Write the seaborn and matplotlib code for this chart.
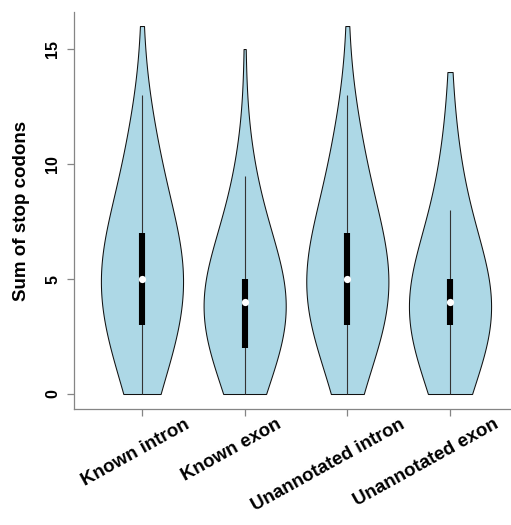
import numpy as np
import pandas as pd
import matplotlib
matplotlib.use("Agg")
import matplotlib.pyplot as plt
import matplotlib.transforms as mtransforms
import seaborn as sns

# ---------------- data ----------------
categories = ["Known intron", "Known exon", "Unannotated intron", "Unannotated exon"]
# number of regions having 0, 1, 2, ... stop codons (estimated from the violins)
known_intron_counts = [6, 7, 8, 11, 12, 13, 12, 13, 5, 5, 5, 5, 3, 1, 0, 0, 1]
known_exon_counts = [7, 8, 11, 13, 16, 18, 6, 5, 5, 4, 2, 1, 0, 0, 0, 1]
unannotated_intron_counts = [4, 5, 8, 13, 13, 13, 12, 13, 5, 5, 5, 5, 3, 1, 0, 0, 1]
unannotated_exon_counts = [8, 11, 14, 22, 25, 25, 7, 6, 6, 5, 4, 3, 1, 0, 1]
y_ticks = [0, 5, 10, 15]
y_label = "Sum of stop codons"

all_counts = [known_intron_counts, known_exon_counts,
              unannotated_intron_counts, unannotated_exon_counts]
frames = []
for cat, counts in zip(categories, all_counts):
    vals = np.repeat(np.arange(len(counts)), counts)
    frames.append(pd.DataFrame({"region": cat, "stops": vals}))
df = pd.concat(frames, ignore_index=True)

# ---------------- style ----------------
plt.rcParams["font.family"] = ["Liberation Sans", "DejaVu Sans"]
FILL = "#ADD8E6"
AXIS_GREY = "#858585"
bandwidths = [2.4, 2.4, 2.4, 2.65]  # kernel bandwidth per violin (stop codons)

fig = plt.figure(figsize=(5.11, 5.25), dpi=100)
ax = fig.add_axes([74 / 511, 1 - 409 / 525, 1 - 74 / 511, (409 - 12) / 525])

for cat, bw in zip(categories, bandwidths):
    sub = df[df["region"] == cat]
    sns.violinplot(data=sub, x="region", y="stops", order=categories, ax=ax,
                   color=FILL, saturation=1, inner=None, cut=0,
                   density_norm="width", width=0.8, linewidth=0.75,
                   linecolor="#111111",
                   bw_method=lambda k, bw=bw: bw / np.std(k.dataset, ddof=1))

# R vioplot-style inner box
for i, cat in enumerate(categories):
    v = df.loc[df["region"] == cat, "stops"].to_numpy()
    q1, med, q3 = np.percentile(v, [25, 50, 75])
    iqr = q3 - q1
    lo = max(q1 - 1.5 * iqr, v.min())
    hi = min(q3 + 1.5 * iqr, v.max())
    ax.plot([i, i], [lo, hi], color="#333333", lw=0.8, zorder=3,
            solid_capstyle="butt")
    ax.plot([i, i], [q1, q3], color="black", lw=4.4, zorder=4,
            solid_capstyle="butt")
    ax.plot([i], [med], "o", color="white", ms=5.2, mec="none", zorder=5)

ax.set_xlim(-0.662, 3.594)
ax.set_ylim(-0.652, 16.61)

for s in ["top", "right"]:
    ax.spines[s].set_visible(False)
for s in ["left", "bottom"]:
    ax.spines[s].set_color(AXIS_GREY)
    ax.spines[s].set_linewidth(0.9)

ax.set_yticks(y_ticks)
ax.set_yticklabels([str(t) for t in y_ticks], fontsize=11.5, fontweight="bold")
ax.tick_params(axis="y", length=5, width=0.9, color=AXIS_GREY, pad=5,
               labelrotation=90)
for lab in ax.get_yticklabels():
    lab.set_verticalalignment("center")

ax.set_xticks(range(len(categories)))
ax.set_xticklabels(categories, rotation=29, ha="right", va="top",
                   rotation_mode="anchor", fontsize=13.5, fontweight="bold")
ax.tick_params(axis="x", length=5, width=0.9, color=AXIS_GREY, pad=0)
label_shift_px = [42, 31, 52, 43]
for lab, dx in zip(ax.get_xticklabels(), label_shift_px):
    lab.set_transform(lab.get_transform() +
                      mtransforms.ScaledTranslation(dx / 100, 0, fig.dpi_scale_trans))

ax.set_xlabel("")
ax.set_ylabel(y_label, fontsize=13.5, fontweight="bold")
ax.yaxis.set_label_coords(-0.1, 0.5)

fig.savefig("out.png", dpi=100)
